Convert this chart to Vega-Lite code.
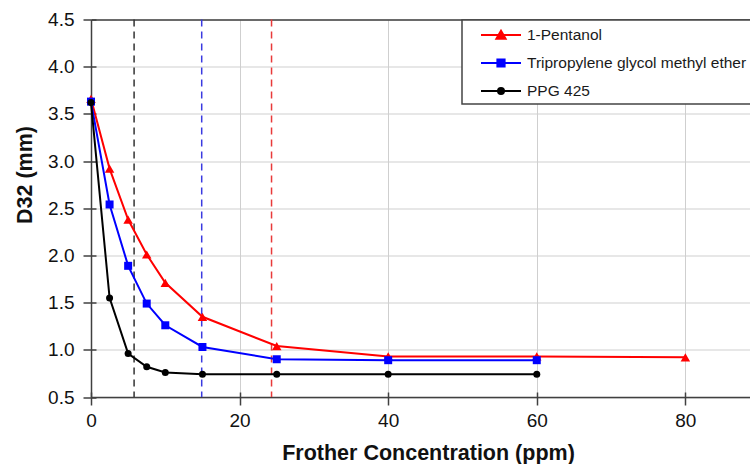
{
  "$schema": "https://vega.github.io/schema/vega-lite/v6.json",
  "width": 659,
  "height": 377.5,
  "autosize": {"type": "none"},
  "padding": {"left": 91, "top": 19.5, "right": 0, "bottom": 67},
  "background": "white",
  "config": {
    "font": "Liberation Sans",
    "view": {"stroke": null},
    "axis": {
      "labelFont": "Liberation Sans",
      "labelFontSize": 19,
      "labelColor": "#111111",
      "labelFlush": false,
      "titleFont": "Liberation Sans",
      "titleFontSize": 21.5,
      "titleFontWeight": "bold",
      "titleColor": "#111111",
      "domainColor": "#404040",
      "domainWidth": 1.5,
      "tickColor": "#404040",
      "tickWidth": 1.5,
      "tickSize": 8,
      "gridColor": "#cfcfcf",
      "gridWidth": 1
    },
    "legend": {"labelFont": "Liberation Sans", "strokeWidth": 1.5}
  },
  "datasets": {
    "d32": [
      {"series": "1-Pentanol", "x": 0, "y": 3.66},
      {"series": "1-Pentanol", "x": 2.5, "y": 2.92},
      {"series": "1-Pentanol", "x": 5, "y": 2.38},
      {"series": "1-Pentanol", "x": 7.5, "y": 2.01},
      {"series": "1-Pentanol", "x": 10, "y": 1.71},
      {"series": "1-Pentanol", "x": 15, "y": 1.35},
      {"series": "1-Pentanol", "x": 25, "y": 1.04},
      {"series": "1-Pentanol", "x": 40, "y": 0.93},
      {"series": "1-Pentanol", "x": 60, "y": 0.93},
      {"series": "1-Pentanol", "x": 80, "y": 0.92},
      {"series": "Tripropylene glycol methyl ether", "x": 0, "y": 3.63},
      {"series": "Tripropylene glycol methyl ether", "x": 2.5, "y": 2.54},
      {"series": "Tripropylene glycol methyl ether", "x": 5, "y": 1.89},
      {"series": "Tripropylene glycol methyl ether", "x": 7.5, "y": 1.49},
      {"series": "Tripropylene glycol methyl ether", "x": 10, "y": 1.26},
      {"series": "Tripropylene glycol methyl ether", "x": 15, "y": 1.03},
      {"series": "Tripropylene glycol methyl ether", "x": 25, "y": 0.9},
      {"series": "Tripropylene glycol methyl ether", "x": 40, "y": 0.89},
      {"series": "Tripropylene glycol methyl ether", "x": 60, "y": 0.89},
      {"series": "PPG 425", "x": 0, "y": 3.62},
      {"series": "PPG 425", "x": 2.5, "y": 1.55},
      {"series": "PPG 425", "x": 5, "y": 0.96},
      {"series": "PPG 425", "x": 7.5, "y": 0.82},
      {"series": "PPG 425", "x": 10, "y": 0.76},
      {"series": "PPG 425", "x": 15, "y": 0.74},
      {"series": "PPG 425", "x": 25, "y": 0.74},
      {"series": "PPG 425", "x": 40, "y": 0.74},
      {"series": "PPG 425", "x": 60, "y": 0.74}
    ],
    "ccc": [
      {"series": "PPG 425", "x": 5.8},
      {"series": "Tripropylene glycol methyl ether", "x": 14.9},
      {"series": "1-Pentanol", "x": 24.3}
    ]
  },
  "resolve": {"axis": {"x": "independent", "y": "independent"}},
  "layer": [
    {
      "data": {"name": "ccc"},
      "transform": [{"filter": "datum.series === 'PPG 425'"}],
      "mark": {"type": "rule", "strokeDash": [7, 5], "strokeWidth": 1.5, "color": "#333333"},
      "encoding": {
        "x": {
          "field": "x", "type": "quantitative",
          "scale": {"domain": [0, 88.7], "nice": false, "zero": false},
          "axis": {
            "values": [0, 20, 40, 60, 80],
            "title": "Frother Concentration (ppm)",
            "labelPadding": 6,
            "titleX": 337,
            "titleY": 62,
            "titleAlign": "center",
            "titleBaseline": "alphabetic",
            "grid": true
          }
        }
      }
    },
    {
      "data": {"name": "ccc"},
      "transform": [{"filter": "datum.series === 'Tripropylene glycol methyl ether'"}],
      "mark": {"type": "rule", "strokeDash": [7, 5], "strokeWidth": 1.5, "color": "#3a3ae0"},
      "encoding": {
        "x": {"field": "x", "type": "quantitative", "axis": null}
      }
    },
    {
      "data": {"name": "ccc"},
      "transform": [{"filter": "datum.series === '1-Pentanol'"}],
      "mark": {"type": "rule", "strokeDash": [7, 5], "strokeWidth": 1.5, "color": "#e83a3a"},
      "encoding": {
        "x": {"field": "x", "type": "quantitative", "axis": null}
      }
    },
    {
      "data": {"name": "d32"},
      "transform": [{"filter": "datum.series === '1-Pentanol'"}],
      "mark": {"type": "line", "strokeWidth": 2, "color": "#ff0000"},
      "encoding": {
        "x": {
          "field": "x", "type": "quantitative",
          "axis": {"orient": "top", "labels": false, "ticks": false, "grid": false, "title": null, "values": [0, 20, 40, 60, 80]}
        },
        "y": {
          "field": "y", "type": "quantitative",
          "scale": {"domain": [0.5, 4.5], "nice": false, "zero": false},
          "axis": {
            "values": [0.5, 1, 1.5, 2, 2.5, 3, 3.5, 4, 4.5],
            "format": ".1f",
            "title": "D32  (mm)",
            "labelPadding": 9,
            "titleAngle": -90,
            "titleX": -66,
            "titleY": 155,
            "titleAlign": "center",
            "titleBaseline": "middle",
            "grid": true
          }
        }
      }
    },
    {
      "data": {"name": "d32"},
      "transform": [{"filter": "datum.series === '1-Pentanol'"}],
      "mark": {"type": "point", "filled": true, "opacity": 1, "shape": "triangle-up", "size": 90, "color": "#ff0000"},
      "encoding": {
        "x": {
          "field": "x", "type": "quantitative",
          "axis": {"orient": "bottom", "labels": false, "domain": false, "grid": false, "title": null, "tickSize": -5, "values": [0, 20, 40, 60, 80]}
        },
        "y": {
          "field": "y", "type": "quantitative",
          "axis": {"orient": "left", "labels": false, "domain": false, "grid": false, "title": null, "tickSize": -5, "values": [0.5, 1, 1.5, 2, 2.5, 3, 3.5, 4, 4.5]}
        }
      }
    },
    {
      "data": {"name": "d32"},
      "transform": [{"filter": "datum.series === 'Tripropylene glycol methyl ether'"}],
      "mark": {"type": "line", "strokeWidth": 2, "color": "#0000ff"},
      "encoding": {
        "x": {"field": "x", "type": "quantitative", "axis": null},
        "y": {"field": "y", "type": "quantitative", "axis": null}
      }
    },
    {
      "data": {"name": "d32"},
      "transform": [{"filter": "datum.series === 'Tripropylene glycol methyl ether'"}],
      "mark": {"type": "point", "filled": true, "opacity": 1, "shape": "square", "size": 64, "color": "#0000ff"},
      "encoding": {
        "x": {"field": "x", "type": "quantitative", "axis": null},
        "y": {"field": "y", "type": "quantitative", "axis": null}
      }
    },
    {
      "data": {"name": "d32"},
      "transform": [{"filter": "datum.series === 'PPG 425'"}],
      "mark": {"type": "line", "strokeWidth": 2, "color": "#000000"},
      "encoding": {
        "x": {"field": "x", "type": "quantitative", "axis": null},
        "y": {"field": "y", "type": "quantitative", "axis": null}
      }
    },
    {
      "data": {"name": "d32"},
      "transform": [{"filter": "datum.series === 'PPG 425'"}],
      "mark": {"type": "point", "filled": true, "opacity": 1, "shape": "circle", "size": 49, "color": "#000000"},
      "encoding": {
        "x": {"field": "x", "type": "quantitative", "axis": null},
        "y": {"field": "y", "type": "quantitative", "axis": null}
      }
    },
    {
      "data": {"name": "d32"},
      "transform": [{"filter": "false"}],
      "mark": {"type": "point", "filled": true, "opacity": 1, "strokeWidth": 2},
      "encoding": {
        "color": {
          "field": "series", "type": "nominal",
          "scale": {"domain": ["1-Pentanol", "Tripropylene glycol methyl ether", "PPG 425"], "range": ["#ff0000", "#0000ff", "#000000"]},
          "legend": {
            "title": null, "orient": "none", "legendX": 371, "legendY": 0.5,
            "strokeColor": "#444444", "fillColor": "white", "padding": 4,
            "symbolSize": 400, "symbolStrokeWidth": 2, "symbolOffset": 24, "symbolOpacity": 1,
            "labelFontSize": 15.5, "labelColor": "#1a1a1a", "labelOffset": 15, "labelLimit": 400, "rowPadding": 8
          }
        },
        "stroke": {
          "field": "series", "type": "nominal",
          "scale": {"domain": ["1-Pentanol", "Tripropylene glycol methyl ether", "PPG 425"], "range": ["#ff0000", "#0000ff", "#000000"]},
          "legend": {
            "title": null, "orient": "none", "legendX": 371, "legendY": 0.5,
            "strokeColor": "#444444", "fillColor": "white", "padding": 4,
            "symbolSize": 400, "symbolStrokeWidth": 2, "symbolOffset": 24, "symbolOpacity": 1,
            "labelFontSize": 15.5, "labelColor": "#1a1a1a", "labelOffset": 15, "labelLimit": 400, "rowPadding": 8
          }
        },
        "shape": {
          "field": "series", "type": "nominal",
          "scale": {
            "domain": ["1-Pentanol", "Tripropylene glycol methyl ether", "PPG 425"],
            "range": [
              "M-2,0H2M0,-0.42L0.46,0.38L-0.46,0.38Z",
              "M-2,0H2M-0.36,-0.36H0.36V0.36H-0.36Z",
              "M-2,0H2M-0.3,0A0.3,0.3 0 1,0 0.3,0A0.3,0.3 0 1,0 -0.3,0Z"
            ]
          },
          "legend": {
            "title": null, "orient": "none", "legendX": 371, "legendY": 0.5,
            "strokeColor": "#444444", "fillColor": "white", "padding": 4,
            "symbolSize": 400, "symbolStrokeWidth": 2, "symbolOffset": 24, "symbolOpacity": 1,
            "labelFontSize": 15.5, "labelColor": "#1a1a1a", "labelOffset": 15, "labelLimit": 400, "rowPadding": 8
          }
        }
      }
    }
  ]
}
